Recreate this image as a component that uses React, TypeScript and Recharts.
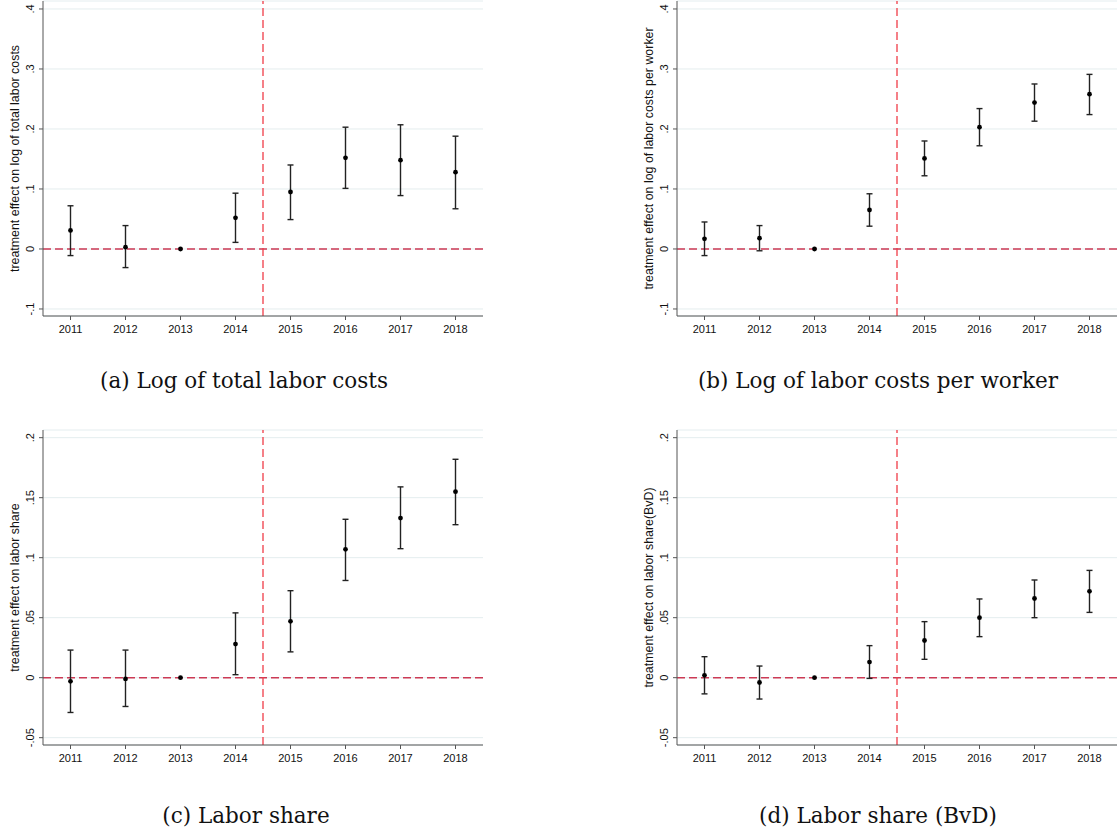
import React from "react";
import {
  ComposedChart,
  Scatter,
  ErrorBar,
  XAxis,
  YAxis,
  CartesianGrid,
  ReferenceLine,
} from "recharts";

// event-study estimates with 95% CIs (2013 is the omitted base year)
const years = [2011, 2012, 2013, 2014, 2015, 2016, 2017, 2018];

const totalCostsEst = [0.031, 0.003, 0, 0.052, 0.095, 0.152, 0.148, 0.128];
const totalCostsLow = [-0.011, -0.031, null, 0.011, 0.049, 0.101, 0.089, 0.067];
const totalCostsHigh = [0.072, 0.039, null, 0.093, 0.14, 0.203, 0.207, 0.188];

const perWorkerEst = [0.017, 0.018, 0, 0.065, 0.151, 0.203, 0.244, 0.258];
const perWorkerLow = [-0.011, -0.003, null, 0.038, 0.122, 0.172, 0.213, 0.224];
const perWorkerHigh = [0.045, 0.039, null, 0.092, 0.18, 0.234, 0.275, 0.291];

const laborShareEst = [-0.003, -0.001, 0, 0.028, 0.047, 0.107, 0.133, 0.155];
const laborShareLow = [-0.029, -0.024, null, 0.0025, 0.0215, 0.081, 0.1075, 0.1275];
const laborShareHigh = [0.023, 0.023, null, 0.054, 0.0725, 0.132, 0.159, 0.182];

const bvdShareEst = [0.002, -0.004, 0, 0.013, 0.031, 0.05, 0.066, 0.072];
const bvdShareLow = [-0.0135, -0.0178, null, -0.0006, 0.0153, 0.0342, 0.05, 0.0544];
const bvdShareHigh = [0.0175, 0.0097, null, 0.0267, 0.0467, 0.0656, 0.0814, 0.0894];

const costTicks = [-0.1, 0, 0.1, 0.2, 0.3, 0.4];
const shareTicks = [-0.05, 0, 0.05, 0.1, 0.15, 0.2];

const SANS = "'Liberation Sans', Arial, Helvetica, sans-serif";
const SERIF = "'DejaVu Serif', 'Liberation Serif', serif";

const buildRows = (est: number[], low: (number | null)[], high: (number | null)[]) =>
  years.map((year, i) => ({
    year,
    est: est[i],
    err: low[i] == null || high[i] == null ? null : [est[i] - (low[i] as number), (high[i] as number) - est[i]],
  }));

// stata-style labels: .1, -.05, 0
const fmtTick = (v: number) => (v === 0 ? "0" : String(v).replace("0.", "."));

const YTick = (props: any) => {
  const { x, y, payload } = props;
  const cx = x - 7;
  return (
    <text
      x={cx}
      y={y}
      transform={`rotate(-90 ${cx} ${y})`}
      textAnchor="middle"
      dominantBaseline="central"
      fontSize={11}
      fontFamily={SANS}
      fill="#111"
    >
      {fmtTick(payload.value)}
    </text>
  );
};

const AxisTitle = (props: any) => {
  const { viewBox, text } = props;
  const cx = viewBox.x + viewBox.width - 28;
  const cy = viewBox.y + viewBox.height / 2;
  return (
    <text
      x={cx}
      y={cy}
      transform={`rotate(-90 ${cx} ${cy})`}
      textAnchor="middle"
      dominantBaseline="central"
      fontSize={12.4}
      fontFamily={SANS}
      fill="#111"
    >
      {text}
    </text>
  );
};

const Dot = (props: any) => <circle cx={props.cx} cy={props.cy} r={2.4} fill="#000" />;

interface PanelProps {
  rows: any[];
  ticks: number[];
  domain: [number, number];
  title: string;
}

function Panel({ rows, ticks, domain, title }: PanelProps) {
  return (
    <ComposedChart width={484} height={341} data={rows} margin={{ top: 1, right: 1, left: 0, bottom: 0 }}>
      <CartesianGrid vertical={false} stroke="#e4edef" strokeWidth={1} />
      <XAxis
        dataKey="year"
        type="number"
        domain={[2010.5, 2018.5]}
        ticks={years}
        interval={0}
        height={25}
        tickSize={4}
        tickMargin={5}
        axisLine={{ stroke: "#555" }}
        tickLine={{ stroke: "#555" }}
        tick={{ fontSize: 11, fill: "#111", fontFamily: SANS }}
      />
      <YAxis
        type="number"
        domain={domain}
        ticks={ticks}
        interval={0}
        allowDataOverflow
        width={43}
        tickSize={4}
        axisLine={{ stroke: "#555" }}
        tickLine={{ stroke: "#555" }}
        tick={<YTick />}
        label={<AxisTitle text={title} />}
      />
      <ReferenceLine y={0} stroke="#cc3a55" strokeWidth={1.4} strokeDasharray="8 4" />
      <ReferenceLine x={2014.5} stroke="#f03c48" strokeWidth={1.3} strokeDasharray="8 4" />
      <Scatter dataKey="est" shape={<Dot />} isAnimationActive={false}>
        <ErrorBar dataKey="err" direction="y" width={3} stroke="#222" strokeWidth={1.4} isAnimationActive={false} />
      </Scatter>
    </ComposedChart>
  );
}

const captionStyle: React.CSSProperties = {
  position: "absolute",
  width: 488,
  textAlign: "center",
  fontFamily: SERIF,
  fontSize: 21.5,
  lineHeight: "20px",
  color: "#111",
};

export default function App() {
  const costDomain: [number, number] = [-0.1117, 0.4133];
  const shareDomain: [number, number] = [-0.0561, 0.2064];
  return (
    <div style={{ position: "absolute", left: 0, top: 0, width: 1117, height: 827, overflow: "hidden", background: "#fff" }}>
      <div style={{ position: "absolute", left: 0, top: 0 }}>
        <Panel rows={buildRows(totalCostsEst, totalCostsLow, totalCostsHigh)} ticks={costTicks} domain={costDomain} title="treatment effect on log of total labor costs" />
      </div>
      <div style={{ position: "absolute", left: 634, top: 0 }}>
        <Panel rows={buildRows(perWorkerEst, perWorkerLow, perWorkerHigh)} ticks={costTicks} domain={costDomain} title="treatment effect on log of labor costs per worker" />
      </div>
      <div style={{ position: "absolute", left: 0, top: 429 }}>
        <Panel rows={buildRows(laborShareEst, laborShareLow, laborShareHigh)} ticks={shareTicks} domain={shareDomain} title="treatment effect on labor share" />
      </div>
      <div style={{ position: "absolute", left: 634, top: 429 }}>
        <Panel rows={buildRows(bvdShareEst, bvdShareLow, bvdShareHigh)} ticks={shareTicks} domain={shareDomain} title="treatment effect on labor share(BvD)" />
      </div>
      <div style={{ ...captionStyle, left: 0, top: 371 }}>(a) Log of total labor costs</div>
      <div style={{ ...captionStyle, left: 634, top: 371 }}>(b) Log of labor costs per worker</div>
      <div style={{ ...captionStyle, left: 2, top: 806 }}>(c) Labor share</div>
      <div style={{ ...captionStyle, left: 634, top: 806 }}>(d) Labor share (BvD)</div>
    </div>
  );
}
